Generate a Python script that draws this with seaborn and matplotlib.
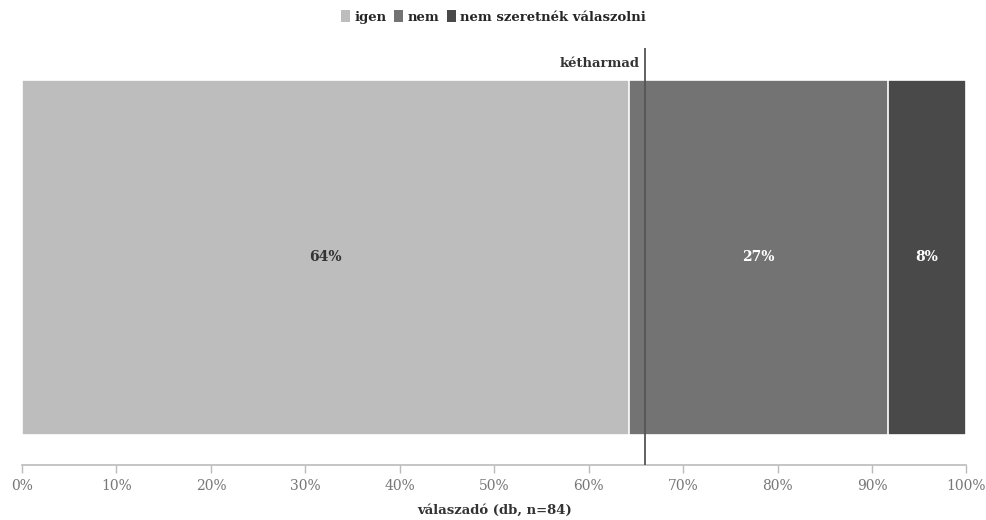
import matplotlib
matplotlib.use("Agg")
import matplotlib.pyplot as plt
from matplotlib.patches import Patch
import numpy as np
import pandas as pd
import seaborn as sns

# Survey answers (respondents, n = 84)
answers = ["igen", "nem", "nem szeretnék válaszolni"]
counts = [54, 23, 7]
colors = ["#bdbdbd", "#737373", "#494949"]
label_colors = ["#333333", "#ffffff", "#ffffff"]
threshold = 66  # "kétharmad" reference line, in percent
threshold_label = "kétharmad"
xticks = [0, 10, 20, 30, 40, 50, 60, 70, 80, 90, 100]
xlabel = "válaszadó (db, n=84)"

n = sum(counts)
pct = np.array(counts) / n * 100
right_edges = np.cumsum(pct)
left_edges = right_edges - pct

sns.set_theme(style="white")
plt.rcParams["font.family"] = ["DejaVu Serif", "DejaVu Sans"]

W, H = 987, 520
fig = plt.figure(figsize=(W / 100, H / 100), dpi=100)
ax = fig.add_axes([22 / W, (H - 465) / H, 944.5 / W, 417 / H])

# Stacked bar: draw cumulative totals from the widest to the narrowest
df = pd.DataFrame({"row": [""] * len(answers), "edge": right_edges, "answer": answers})
for i in reversed(range(len(answers))):
    sns.barplot(data=df.iloc[[i]], x="edge", y="row", orient="h", color=colors[i],
                width=1.0, edgecolor="white", linewidth=1.2, ax=ax, saturation=1)

for i in range(len(answers)):
    ax.text((left_edges[i] + right_edges[i]) / 2, 0, f"{pct[i]:.0f}%",
            ha="center", va="center", fontsize=10, fontweight="bold",
            color=label_colors[i])

ax.set_xlim(0, 100)
ax.set_ylim(0.5845, -0.59)

ax.axvline(threshold, color="#555555", linewidth=1.3, zorder=5)
ax.text(threshold - 0.6, -0.545, threshold_label, ha="right", va="center",
        fontsize=9.5, fontweight="bold", color="#333333")

ax.set_xticks(xticks)
ax.set_xticklabels([f"{t}%" for t in xticks], color="#777777", fontsize=10)
ax.set_yticks([])
ax.set_ylabel("")
ax.set_xlabel(xlabel, fontsize=9.5, fontweight="bold", color="#333333", labelpad=8)
for side in ["top", "right", "left"]:
    ax.spines[side].set_visible(False)
ax.spines["bottom"].set_color("#bbbbbb")
ax.spines["bottom"].set_linewidth(1.2)
ax.tick_params(axis="x", bottom=True, length=6, width=1, color="#bbbbbb", pad=4)

handles = [Patch(facecolor=c, edgecolor="none") for c in colors]
fig.legend(handles, answers, loc="center", bbox_to_anchor=(0.5, 1 - 17 / H), ncol=3,
           frameon=False, handlelength=0.7, handleheight=1.0, handletextpad=0.3,
           columnspacing=0.6, prop={"weight": "bold", "size": 9.5})

fig.savefig("out.png", dpi=100)
